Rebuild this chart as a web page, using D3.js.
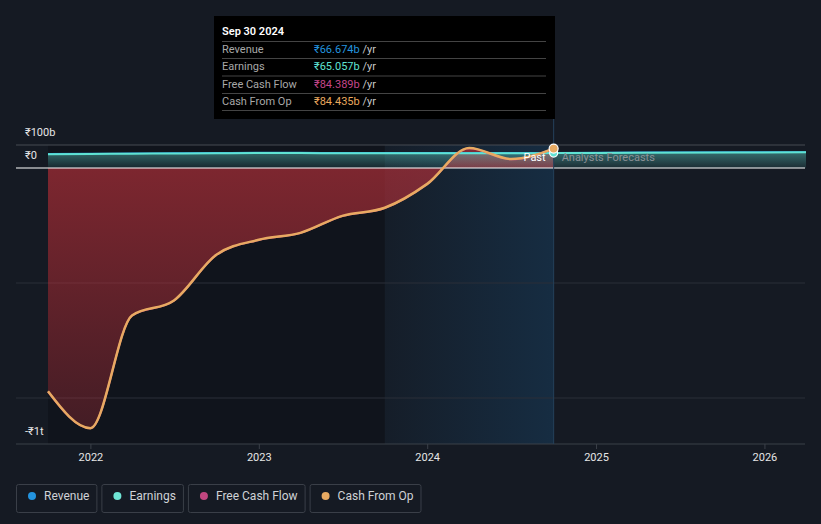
<!DOCTYPE html>
<html>
<head>
<meta charset="utf-8">
<script src="https://cdn.jsdelivr.net/npm/d3@7"></script>
<style>
  html, body { margin: 0; padding: 0; background: #151a23; }
  #chart { width: 821px; height: 524px; }
</style>
</head>
<body>
<div id="chart"></div>
<script>
const parse = d3.timeParse('%Y-%m-%d');

// Quarterly history (₹ billions)
const pastDates = ['2021-09-30', '2021-12-31', '2022-03-31', '2022-06-30', '2022-09-30', '2022-12-31',
  '2023-03-31', '2023-06-30', '2023-09-30', '2023-12-31', '2024-03-31', '2024-06-30', '2024-09-30'];
const cashFromOp = [-971, -1131, -641, -576, -377, -312, -282, -208, -173, -69, 87, 39, 84.435];
const freeCashFlow = [-972, -1132, -642, -577, -378, -313, -283, -209, -174, -70, 86, 38, 84.389];
const revenuePast = [62, 63, 64, 65, 66, 67, 67, 66, 66, 66, 66, 66, 66.674];
const earningsPast = [60, 61, 62, 63, 64, 65, 65, 64, 64, 64, 64, 64, 65.057];

// Analyst forecasts (₹ billions)
const forecastDates = ['2024-09-30', '2025-03-31', '2026-03-31'];
const revenueForecast = [66.674, 68, 70];
const earningsForecast = [65.057, 66, 68];

const yTicks = [100, 0, -500, -1000];
const yLabels = [{ v: 100, t: '₹100b' }, { v: 0, t: '₹0' }, { v: -1200, t: '-₹1t' }];
const yearTicks = ['2022-01-01', '2023-01-01', '2024-01-01', '2025-01-01', '2026-01-01'];

const tooltipTitle = 'Sep 30 2024';
const tooltipRows = [
  { name: 'Revenue', value: '₹66.674b', color: '#2394df' },
  { name: 'Earnings', value: '₹65.057b', color: '#5fe3d3' },
  { name: 'Free Cash Flow', value: '₹84.389b', color: '#c5468a' },
  { name: 'Cash From Op', value: '₹84.435b', color: '#e9a85e' }
];
const legendItems = [
  { name: 'Revenue', color: '#2394df' },
  { name: 'Earnings', color: '#6fe5d5' },
  { name: 'Free Cash Flow', color: '#c0467f' },
  { name: 'Cash From Op', color: '#e8aa62' }
];

const font = "Roboto, 'Noto Sans', sans-serif";
const W = 821, H = 524;
const plotL = 16, plotR = 805, plotT = 145, plotB = 444;

const svg = d3.select('#chart').append('svg').attr('width', W).attr('height', H);
const defs = svg.append('defs');

const x = d3.scaleTime().domain([parse('2021-09-30'), parse('2026-03-31')]).range([48, 806]);
const y = d3.scaleLinear().domain([-1200, 100]).range([plotB, plotT]);

const past = pastDates.map((d, i) => ({
  date: parse(d), cfo: cashFromOp[i], fcf: freeCashFlow[i], rev: revenuePast[i], earn: earningsPast[i]
}));
const fut = forecastDates.map((d, i) => ({ date: parse(d), rev: revenueForecast[i], earn: earningsForecast[i] }));

// Gradients
const gRed = defs.append('linearGradient').attr('id', 'gRed')
  .attr('gradientUnits', 'userSpaceOnUse').attr('x1', 0).attr('x2', 0).attr('y1', y(0)).attr('y2', plotB);
gRed.append('stop').attr('offset', 0).attr('stop-color', '#b02f38').attr('stop-opacity', 0.68);
gRed.append('stop').attr('offset', 1).attr('stop-color', '#b02f38').attr('stop-opacity', 0.3);

const gTeal = defs.append('linearGradient').attr('id', 'gTeal')
  .attr('gradientUnits', 'userSpaceOnUse').attr('x1', 0).attr('x2', 0).attr('y1', y(70)).attr('y2', y(0));
gTeal.append('stop').attr('offset', 0).attr('stop-color', '#5ed6cc').attr('stop-opacity', 0.45);
gTeal.append('stop').attr('offset', 1).attr('stop-color', '#5ed6cc').attr('stop-opacity', 0.1);

const gBlue = defs.append('linearGradient').attr('id', 'gBlue')
  .attr('x1', 0).attr('x2', 1).attr('y1', 0).attr('y2', 0);
gBlue.append('stop').attr('offset', 0).attr('stop-color', '#1a6fb0').attr('stop-opacity', 0.04);
gBlue.append('stop').attr('offset', 1).attr('stop-color', '#1a6fb0').attr('stop-opacity', 0.22);

const now = parse('2024-09-30');
const yearAgo = parse('2023-09-30');

// Past (darker) and last-year highlight
svg.append('rect')
  .attr('x', x(past[0].date)).attr('width', x(yearAgo) - x(past[0].date))
  .attr('y', plotT).attr('height', plotB - plotT)
  .attr('fill', '#000').attr('opacity', 0.2);
svg.append('rect')
  .attr('x', x(yearAgo)).attr('width', x(now) - x(yearAgo))
  .attr('y', plotT).attr('height', plotB - plotT)
  .attr('fill', 'url(#gBlue)');

// Grid
svg.append('g').selectAll('line')
  .data(yTicks.filter(d => d !== 0)).enter().append('line')
  .attr('x1', plotL).attr('x2', plotR)
  .attr('y1', d => y(d)).attr('y2', d => y(d))
  .attr('stroke', d => d === 100 ? '#474b53' : '#2a2f38').attr('stroke-width', 1);

// Areas
const areaFcf = d3.area().x(d => x(d.date)).y0(y(0)).y1(d => y(d.fcf)).curve(d3.curveMonotoneX);
svg.append('path').datum(past).attr('d', areaFcf).attr('fill', 'url(#gRed)');

const all = past.map(d => ({ date: d.date, rev: d.rev, earn: d.earn })).concat(fut.slice(1));
const areaEarn = d3.area().x(d => x(d.date)).y0(y(0)).y1(d => y(d.earn)).curve(d3.curveMonotoneX);
svg.append('path').datum(all).attr('d', areaEarn).attr('fill', 'url(#gTeal)');

// Zero line
svg.append('line').attr('x1', plotL).attr('x2', plotR).attr('y1', y(0)).attr('y2', y(0))
  .attr('stroke', '#ffffff').attr('stroke-width', 1.2);

// Lines
const line = key => d3.line().x(d => x(d.date)).y(d => y(d[key])).curve(d3.curveMonotoneX);
svg.append('path').datum(all).attr('d', line('rev'))
  .attr('fill', 'none').attr('stroke', '#2394df').attr('stroke-width', 1.5);
svg.append('path').datum(all).attr('d', line('earn'))
  .attr('fill', 'none').attr('stroke', '#5fe3d3').attr('stroke-width', 2);
svg.append('path').datum(past).attr('d', line('fcf'))
  .attr('fill', 'none').attr('stroke', '#c0467f').attr('stroke-width', 2);
svg.append('path').datum(past).attr('d', line('cfo'))
  .attr('fill', 'none').attr('stroke', '#e8aa62').attr('stroke-width', 2.5);

// Bottom axis
const xAxis = svg.append('g').attr('transform', `translate(0,${plotB})`);
xAxis.append('line').attr('x1', plotL).attr('x2', plotR).attr('stroke', '#3b4049');
xAxis.selectAll('.tk').data(yearTicks.map(parse)).enter().append('line')
  .attr('class', 'tk')
  .attr('x1', d => x(d)).attr('x2', d => x(d)).attr('y1', 0).attr('y2', 5)
  .attr('stroke', '#3b4049');
xAxis.selectAll('.yr').data(yearTicks.map(parse)).enter().append('text')
  .attr('class', 'yr')
  .attr('x', d => x(d)).attr('y', 17).attr('text-anchor', 'middle')
  .attr('fill', '#e6e6e6').attr('font-family', font).attr('font-size', '11px')
  .text(d3.timeFormat('%Y'));

// Y labels
svg.selectAll('.ylab').data(yLabels).enter().append('text')
  .attr('class', 'ylab')
  .attr('x', 25).attr('y', d => y(d.v) - 9).attr('fill', '#e6e6e6')
  .attr('font-family', font).attr('font-size', '11px')
  .text(d => d.t);

// Now marker line + Past / Forecast labels
svg.append('line').attr('x1', x(now)).attr('x2', x(now)).attr('y1', 119).attr('y2', plotB)
  .attr('stroke', '#23405a').attr('stroke-width', 1);
svg.append('text').attr('x', x(now) - 8).attr('y', y(0) - 7).attr('text-anchor', 'end')
  .attr('fill', '#ffffff').attr('font-family', font).attr('font-size', '11px').text('Past');
svg.append('text').attr('x', x(now) + 8).attr('y', y(0) - 7)
  .attr('fill', '#8c9096').attr('font-family', font).attr('font-size', '11px').text('Analysts Forecasts');

const lastPt = past[past.length - 1];
svg.append('circle').attr('cx', x(lastPt.date)).attr('cy', y(lastPt.earn)).attr('r', 4)
  .attr('fill', '#5fe3d3').attr('stroke', '#ffffff').attr('stroke-width', 1.2);
svg.append('circle').attr('cx', x(lastPt.date)).attr('cy', y(lastPt.cfo)).attr('r', 4.5)
  .attr('fill', '#e8aa62').attr('stroke', '#ffffff').attr('stroke-width', 1.2);

// Tooltip
const tip = svg.append('g');
tip.append('rect').attr('x', 214).attr('y', 16).attr('width', 341).attr('height', 103).attr('fill', '#000');
tip.append('text').attr('x', 222).attr('y', 35).attr('fill', '#fff')
  .attr('font-family', font).attr('font-size', '11px').attr('font-weight', 600).text(tooltipTitle);
[41.5, 58.5, 76, 93.5, 110.5].forEach(ly => {
  tip.append('line').attr('x1', 222).attr('x2', 546).attr('y1', ly).attr('y2', ly)
    .attr('stroke', '#444').attr('stroke-width', 1);
});
tooltipRows.forEach((r, i) => {
  const by = 52.5 + i * 17.5;
  tip.append('text').attr('x', 222).attr('y', by).attr('fill', '#a8a8a8')
    .attr('font-family', font).attr('font-size', '11px').text(r.name);
  const t = tip.append('text').attr('x', 314).attr('y', by)
    .attr('font-family', font).attr('font-size', '11px');
  t.append('tspan').attr('fill', r.color).text(r.value);
  t.append('tspan').attr('fill', '#c8c8c8').text(' /yr');
});

// Legend
let lx = 16;
legendItems.forEach(it => {
  const g = svg.append('g').attr('transform', `translate(${lx},484)`);
  const txt = g.append('text').attr('x', 28).attr('y', 16).attr('fill', '#cfd2d6')
    .attr('font-family', font).attr('font-size', '12px').text(it.name);
  const w = txt.node().getComputedTextLength() + 35;
  g.insert('rect', 'text').attr('x', 0.5).attr('y', 0.5).attr('width', w).attr('height', 28)
    .attr('rx', 2).attr('fill', 'none').attr('stroke', '#3a3f48');
  g.append('circle').attr('cx', 16).attr('cy', 12).attr('r', 4).attr('fill', it.color);
  lx += w + 5;
});
</script>
</body>
</html>
